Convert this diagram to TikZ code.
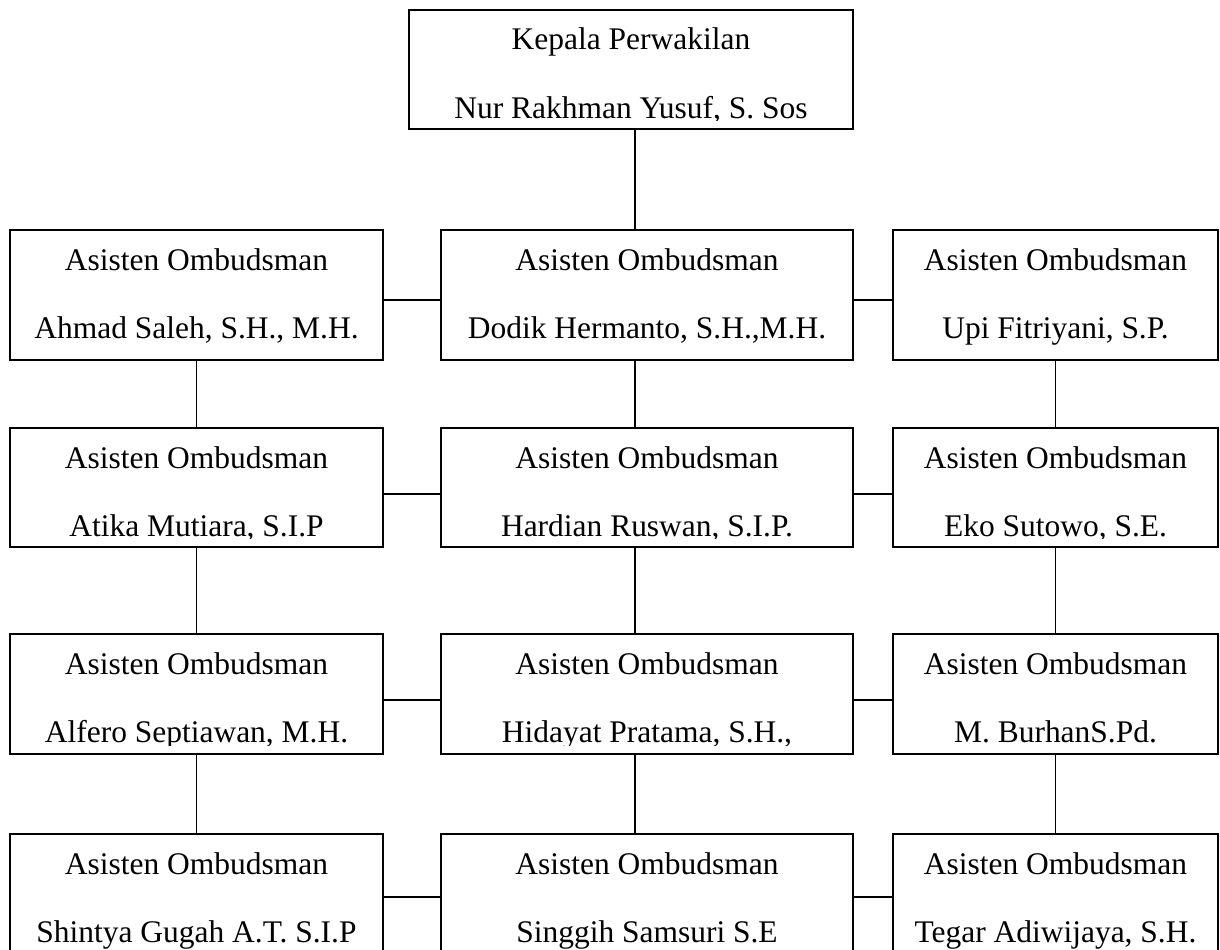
\documentclass[tikz,border=0pt]{standalone}
\usepackage{fontspec}
\setmainfont{Liberation Serif}
\usetikzlibrary{fit}
\tikzset{
  orgbox/.style={draw, line width=1.5pt, inner sep=0pt, rectangle},
  orgtxt/.style={anchor=base, inner sep=0pt, font=\fontsize{23.6}{28}\selectfont},
  vlink/.style={line width=0.8pt},
  hlink/.style={line width=1.4pt},
}
\newcommand{\orgunit}[7]{%
  \node[orgbox, fit={(#2,#3) (#4,#5)}] (#1) {};
  \begin{scope}
    \clip (#2+2,#3+2) rectangle (#4-2,#5-9);
    \node[orgtxt] (#1a) at ({(#2+#4)/2},#3+40) {#6};
    \node[orgtxt] (#1b) at ({(#2+#4)/2},#3+108) {#7};
  \end{scope}
}
\begin{document}
\begin{tikzpicture}[x=0.75pt,y=-0.75pt]
\useasboundingbox (0,0) rectangle (1220,949);
\fill[white] (0,0) rectangle (1220,949);
\clip (0,0) rectangle (1220,949);

\orgunit{top}{409}{10}{853}{129}{Kepala Perwakilan}{Nur Rakhman Yusuf, S. Sos}

\orgunit{l1}{10}{230}{383}{360}{Asisten Ombudsman}{Ahmad Saleh, S.H., M.H.}
\orgunit{m1}{441}{230}{853}{360}{Asisten Ombudsman}{Dodik Hermanto, S.H.,M.H.}
\orgunit{r1}{893}{230}{1218}{360}{Asisten Ombudsman}{Upi Fitriyani, S.P.}

\orgunit{l2}{10}{428}{383}{547}{Asisten Ombudsman}{Atika Mutiara, S.I.P}
\orgunit{m2}{441}{428}{853}{547}{Asisten Ombudsman}{Hardian Ruswan, S.I.P.}
\orgunit{r2}{893}{428}{1218}{547}{Asisten Ombudsman}{Eko Sutowo, S.E.}

\orgunit{l3}{10}{634}{383}{754}{Asisten Ombudsman}{Alfero Septiawan, M.H.}
\orgunit{m3}{441}{634}{853}{754}{Asisten Ombudsman}{Hidayat Pratama, S.H.,}
\orgunit{r3}{893}{634}{1218}{754}{Asisten Ombudsman}{M. BurhanS.Pd.}

\orgunit{l4}{10}{834}{383}{960}{Asisten Ombudsman}{Shintya Gugah A.T. S.I.P}
\orgunit{m4}{441}{834}{853}{960}{Asisten Ombudsman}{Singgih Samsuri S.E}
\orgunit{r4}{893}{834}{1218}{960}{Asisten Ombudsman}{Tegar Adiwijaya, S.H.}

\coordinate (mx) at (635,0);
\coordinate (h1) at (0,300);
\coordinate (h2) at (0,494);
\coordinate (h3) at (0,700);
\coordinate (h4) at (0,897);

% vertical links
\draw[vlink] (top.south -| mx) -- (m1.north -| mx);
\draw[vlink] (l1.south) -- (l2.north);
\draw[vlink] (l2.south) -- (l3.north);
\draw[vlink] (l3.south) -- (l4.north);
\draw[vlink] (m1.south -| mx) -- (m2.north -| mx);
\draw[vlink] (m2.south -| mx) -- (m3.north -| mx);
\draw[vlink] (m3.south -| mx) -- (m4.north -| mx);
\draw[vlink] (r1.south) -- (r2.north);
\draw[vlink] (r2.south) -- (r3.north);
\draw[vlink] (r3.south) -- (r4.north);

% horizontal links
\draw[hlink] (l1.east |- h1) -- (m1.west |- h1);
\draw[hlink] (m1.east |- h1) -- (r1.west |- h1);
\draw[hlink] (l2.east |- h2) -- (m2.west |- h2);
\draw[hlink] (m2.east |- h2) -- (r2.west |- h2);
\draw[hlink] (l3.east |- h3) -- (m3.west |- h3);
\draw[hlink] (m3.east |- h3) -- (r3.west |- h3);
\draw[hlink] (l4.east |- h4) -- (m4.west |- h4);
\draw[hlink] (m4.east |- h4) -- (r4.west |- h4);
\end{tikzpicture}
\end{document}
